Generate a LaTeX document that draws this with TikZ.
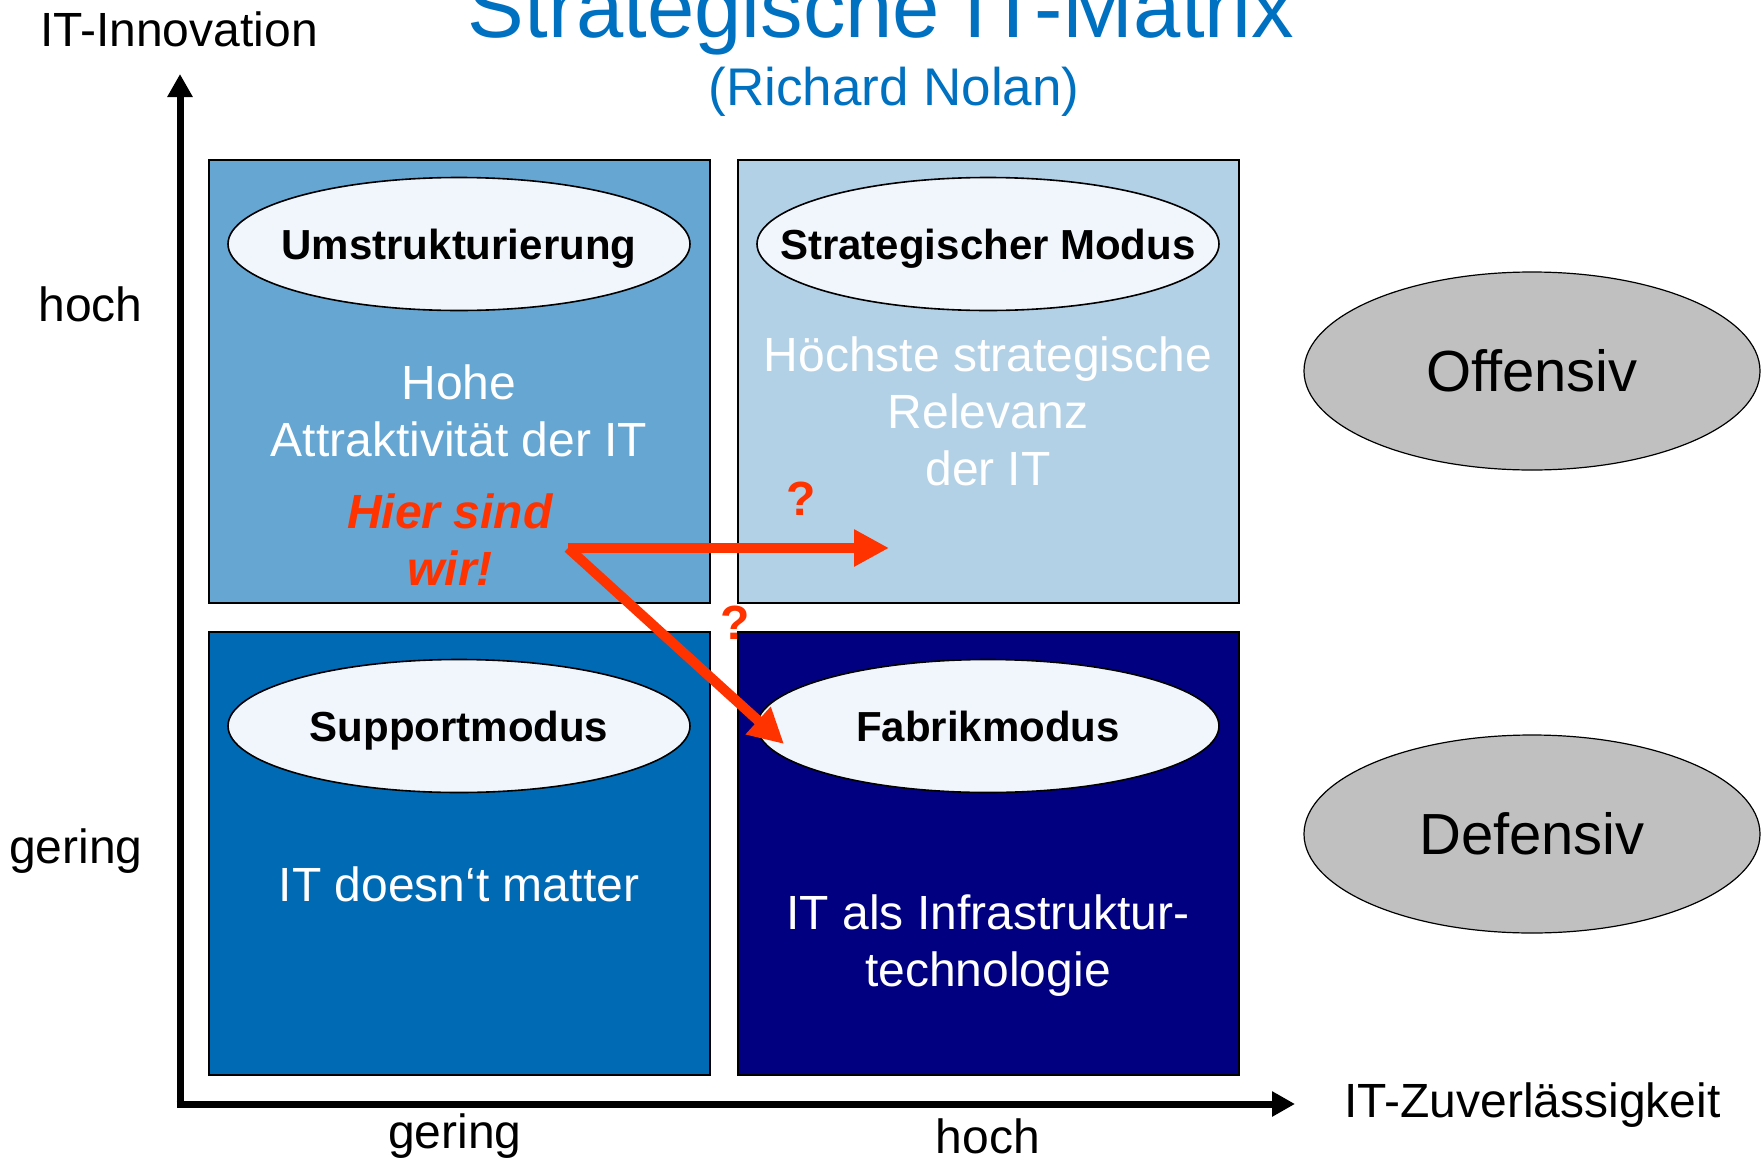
\documentclass[tikz,border=0pt]{standalone}
\usepackage{fontspec}
\setmainfont{Liberation Sans}
\usetikzlibrary{arrows.meta,shapes.geometric}
\definecolor{nolanblau}{RGB}{0,112,192}
\definecolor{feldA}{RGB}{102,166,210}
\definecolor{feldB}{RGB}{179,209,230}
\definecolor{feldC}{RGB}{0,106,180}
\definecolor{feldD}{RGB}{0,0,128}
\definecolor{ovalhell}{RGB}{240,246,251}
\definecolor{ovalgrau}{RGB}{192,192,192}
\definecolor{hierrot}{RGB}{255,51,0}
\tikzset{
  feld/.style={draw=black, line width=1pt, minimum width=250.5pt, minimum height=221.5pt, inner sep=0pt},
  modus/.style={ellipse, draw=black, line width=0.8pt, fill=ovalhell, minimum width=231pt, minimum height=66.5pt, inner xsep=-40pt, inner ysep=0pt, text height=15.3pt, text depth=0pt, font=\fontsize{21}{25}\selectfont\bfseries},
  haltung/.style={ellipse, draw=black, line width=0.6pt, fill=ovalgrau, minimum width=228pt, minimum height=99pt, inner sep=0pt, font=\fontsize{29}{34}\selectfont},
  feldtext/.style={align=center, text=white, font=\fontsize{24}{28.5}\selectfont},
  achse/.style={line width=3.5pt, -{Triangle[length=11.5pt,width=12pt]}},
  achstext/.style={inner sep=0pt, font=\fontsize{24}{28}\selectfont},
  wegpfeil/.style={draw=hierrot, line width=5pt, -{Triangle[length=17.5pt,width=17.5pt]}},
  frage/.style={text=hierrot, font=\fontsize{24}{28}\selectfont\bfseries}
}
\begin{document}
\begin{tikzpicture}[x=0.5pt,y=-0.5pt]
        \useasboundingbox (0,0) rectangle (1763,1162);
        \node (titel) at (881,37) [anchor=base, text=nolanblau, font=\fontsize{42.5}{50}\selectfont] {Strategische IT-Matrix};
        \node (autor) at (894,92) [text=nolanblau, font=\fontsize{26.5}{31}\selectfont] {(Richard Nolan)};
        \coordinate (O) at (180,1104);
        \coordinate (ytip) at (180,74);
        \coordinate (xtip) at (1295,1104);
        \draw[achse] ([yshift=-1.75pt]O) -- (ytip);
        \draw[achse] ([xshift=-1.75pt]O) -- (xtip);
        \node (yname) at (179,29) [achstext] {IT-Innovation};
        \node (xname) at (1344,1105) [achstext, anchor=west] {IT-Zuverlässigkeit};
        \node (yhoch) at (143,304) [achstext, anchor=east] {hoch};
        \node (ygering) at (143,851) [achstext, anchor=east] {gering};
        \node (xgering) at (455,1136) [achstext] {gering};
        \node (xhoch) at (988,1136) [achstext] {hoch};
        \node (umstr) at (459.5,381.5) [feld, fill=feldA] {};
        \node (strat) at (988.5,381.5) [feld, fill=feldB] {};
        \node (supp) at (459.5,853.5) [feld, fill=feldC] {};
        \node (fabr) at (988.5,853.5) [feld, fill=feldD] {};
        \node (umstroval) at (459,244) [modus] {Umstrukturierung};
        \node (stratoval) at (988,244) [modus] {Strategischer Modus};
        \node (suppoval) at (459,726) [modus] {Supportmodus};
        \node (fabroval) at (988,726) [modus] {Fabrikmodus};
        \node (umstrtext) at (459,411) [feldtext] {Hohe\\Attraktivität der IT};
        \node (strattext) at (988,411) [feldtext] {Höchste strategische\\Relevanz\\der IT};
        \node (supptext) at (459,884) [feldtext] {IT doesn‘t matter};
        \node (fabrtext) at (988,946) [feldtext] {IT als Infrastruktur-\\technologie};
        \node (hiertext) at (450,540) [align=center, text=hierrot, font=\fontsize{24}{28.5}\selectfont\bfseries\itshape] {Hier sind\\wir!};
        \node (offen) at (1532,371) [haltung] {Offensiv};
        \node (defen) at (1532,834) [haltung] {Defensiv};
        \coordinate (hier) at (568,548);
        \coordinate (zielrechts) at (889,548);
        \coordinate (zielunten) at (784,744);
        \draw[wegpfeil] (hier) -- (zielrechts);
        \draw[wegpfeil] (hier) -- (zielunten);
        \node (frage1) at (801,499) [frage] {?};
        \node (frage2) at (735,623) [frage] {?};
\end{tikzpicture}
\end{document}
